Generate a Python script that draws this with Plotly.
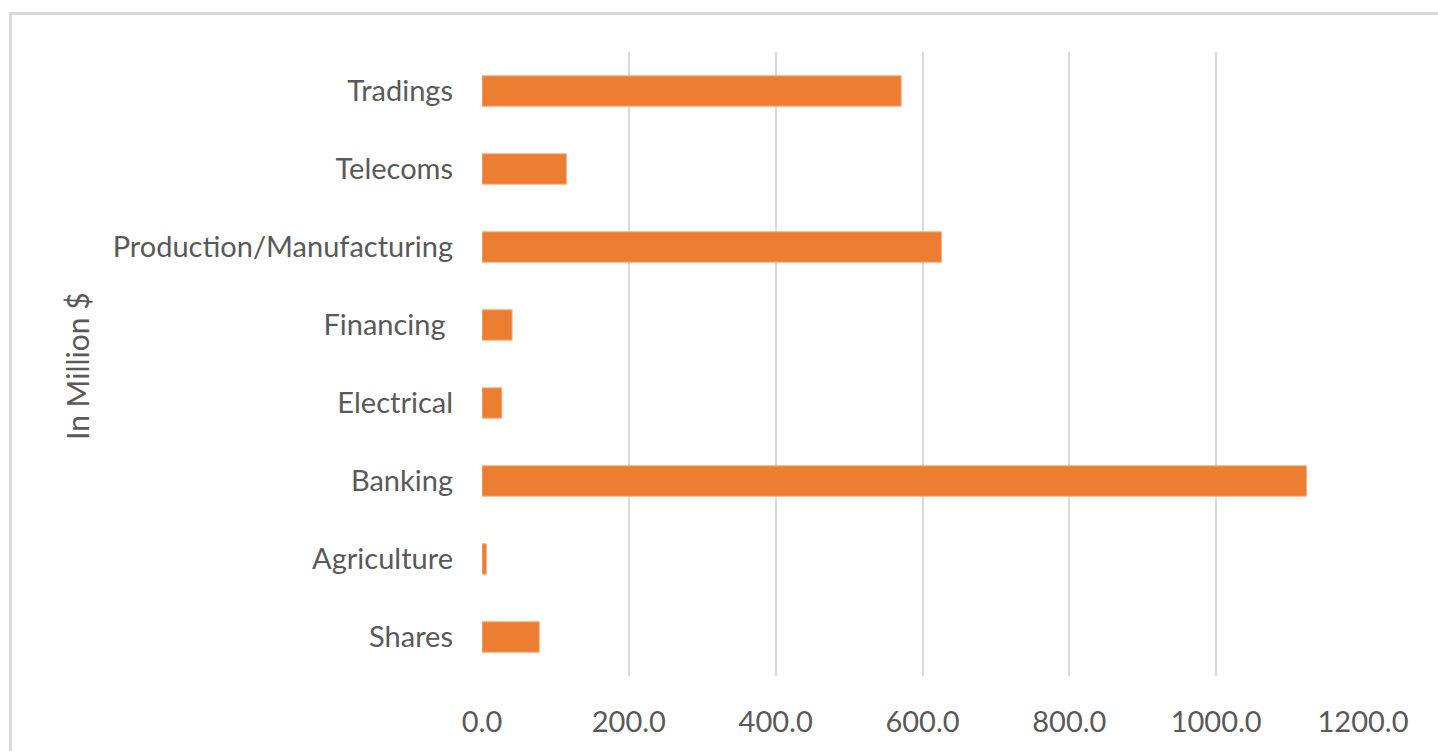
import plotly.graph_objects as go

# Sector values, in million dollars (bottom to top)
sectors = ["Shares", "Agriculture", "Banking", "Electrical", "Financing\u00a0",
           "Production/Manufacturing", "Telecoms", "Tradings"]
amounts = [78, 6, 1123, 27, 41, 626, 115, 571]

x_ticks = [0, 200, 400, 600, 800, 1000, 1200]
x_tick_labels = ["0.0", "200.0", "400.0", "600.0", "800.0", "1000.0", "1200.0"]

label_font = dict(family="Lato", size=29, color="#595959")

fig = go.Figure(
    go.Bar(
        y=sectors,
        x=amounts,
        orientation="h",
        marker=dict(color="#ED7D31", line=dict(color="#F4B183", width=1)),
    )
)

fig.update_layout(
    width=1438,
    height=751,
    margin=dict(l=482, r=75, t=52, b=75),
    paper_bgcolor="white",
    plot_bgcolor="white",
    bargap=0.61,
    showlegend=False,
    font=label_font,
    shapes=[
        dict(type="rect", xref="paper", yref="paper",
             x0=-482 / 881 + 10.5 / 881, x1=1.2,
             y0=-0.2, y1=1 + (52 - 13.5) / 624,
             line=dict(color="#D9D9D9", width=3), layer="below"),
    ],
    annotations=[
        dict(text="In Million $", xref="paper", yref="paper",
             x=(77 - 482) / 881, y=(676 - 366) / 624,
             showarrow=False, textangle=-90,
             font=dict(family="Lato", size=30, color="#595959"),
             xanchor="center", yanchor="middle"),
    ],
)

fig.update_xaxes(
    range=[0, 1200],
    tickvals=x_ticks,
    ticktext=x_tick_labels,
    showgrid=True,
    gridcolor="#D9D9D9",
    gridwidth=2,
    zeroline=False,
    showline=False,
    ticks="",
    ticklabelstandoff=26,
    tickfont=label_font,
)

fig.update_yaxes(
    categoryorder="array",
    categoryarray=sectors,
    showgrid=False,
    zeroline=False,
    showline=False,
    ticks="",
    ticklabelstandoff=28,
    tickfont=label_font,
)

fig.write_html("out.html")
